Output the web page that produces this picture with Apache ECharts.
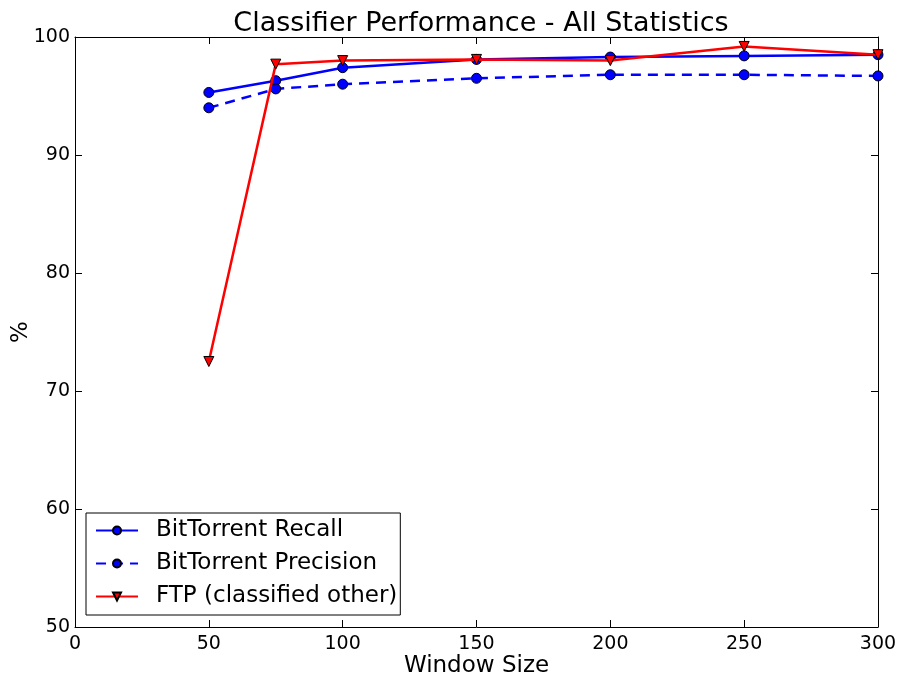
<!DOCTYPE html>
<html><head><meta charset="utf-8">
<script src="https://cdn.jsdelivr.net/npm/echarts@6/dist/echarts.min.js"></script>
<style>html,body{margin:0;padding:0;background:#fff}#c{width:898px;height:677px}</style>
</head><body><div id="c"></div>
<script>
const windowSizes = [50, 75, 100, 150, 200, 250, 300];
const recall = [95.3, 96.3, 97.4, 98.1, 98.3, 98.4, 98.5];
const precision = [94.0, 95.6, 96.0, 96.5, 96.8, 96.8, 96.7];
const ftp = [72.5, 97.7, 98.0, 98.1, 98.0, 99.2, 98.5];
const seriesNames = ['BitTorrent Recall', 'BitTorrent Precision', 'FTP (classified other)'];

const font = 'DejaVu Sans';
const pair = (xs, ys) => xs.map((x, i) => [x, ys[i]]);
const chart = echarts.init(document.getElementById('c'), null, {renderer: 'canvas'});
const axisCommon = {
  axisLine: {show: true, onZero: false, lineStyle: {color: '#000', width: 1}},
  axisTick: {show: true, inside: true, length: 7, lineStyle: {color: '#000'}},
  splitLine: {show: false}
};
chart.setOption({
  animation: false,
  title: {text: 'Classifier Performance - All Statistics', left: 476, top: 5, textAlign: 'center',
    textStyle: {fontFamily: font, fontSize: 27, fontWeight: 'normal', color: '#000'}},
  grid: {left: 75, right: 20, top: 37, bottom: 50, containLabel: false, outerBoundsMode: 'none'},
  legend: {
    left: 86, top: 513, orient: 'vertical', itemWidth: 42, itemHeight: 10, itemGap: 10,
    padding: [6, 3, 7, 9], borderColor: '#000', borderWidth: 1, backgroundColor: '#fff',
    textStyle: {fontFamily: font, fontSize: 23, color: '#000', padding: [0, 0, 0, 13]},
    data: seriesNames
  },
  xAxis: [
    Object.assign({type: 'value', min: 0, max: 300, interval: 50, position: 'bottom',
      name: 'Window Size', nameLocation: 'middle', nameGap: 28, nameMoveOverlap: false,
      nameTextStyle: {fontFamily: font, fontSize: 23, color: '#000'},
      axisLabel: {fontFamily: font, fontSize: 19, color: '#000', margin: 8}}, axisCommon),
    Object.assign({type: 'value', min: 0, max: 300, interval: 50, position: 'top',
      axisLabel: {show: false}}, axisCommon)
  ],
  yAxis: [
    Object.assign({type: 'value', min: 50, max: 100, interval: 10, position: 'left',
      name: '%', nameLocation: 'middle', nameGap: 42, nameMoveOverlap: false,
      nameTextStyle: {fontFamily: font, fontSize: 23, color: '#000'},
      axisLabel: {fontFamily: font, fontSize: 19, color: '#000', margin: 5}}, axisCommon),
    Object.assign({type: 'value', min: 50, max: 100, interval: 10, position: 'right',
      axisLabel: {show: false}}, axisCommon)
  ],
  series: [
    {name: seriesNames[0], type: 'line', data: pair(windowSizes, recall),
      symbol: 'circle', symbolSize: 10, lineStyle: {color: '#0000ff', width: 2.5},
      itemStyle: {color: '#0000ff', borderColor: '#000', borderWidth: 1}, z: 3},
    {name: seriesNames[1], type: 'line', data: pair(windowSizes, precision),
      symbol: 'circle', symbolSize: 10, lineStyle: {color: '#0000ff', width: 2.5, type: [10, 7]},
      itemStyle: {color: '#0000ff', borderColor: '#000', borderWidth: 1}, z: 3},
    {name: seriesNames[2], type: 'line', data: pair(windowSizes, ftp),
      symbol: 'triangle', symbolRotate: 180, symbolSize: 10, lineStyle: {color: '#ff0000', width: 2.5},
      itemStyle: {color: '#ff0000', borderColor: '#000', borderWidth: 1}, z: 4}
  ]
});
</script></body></html>
